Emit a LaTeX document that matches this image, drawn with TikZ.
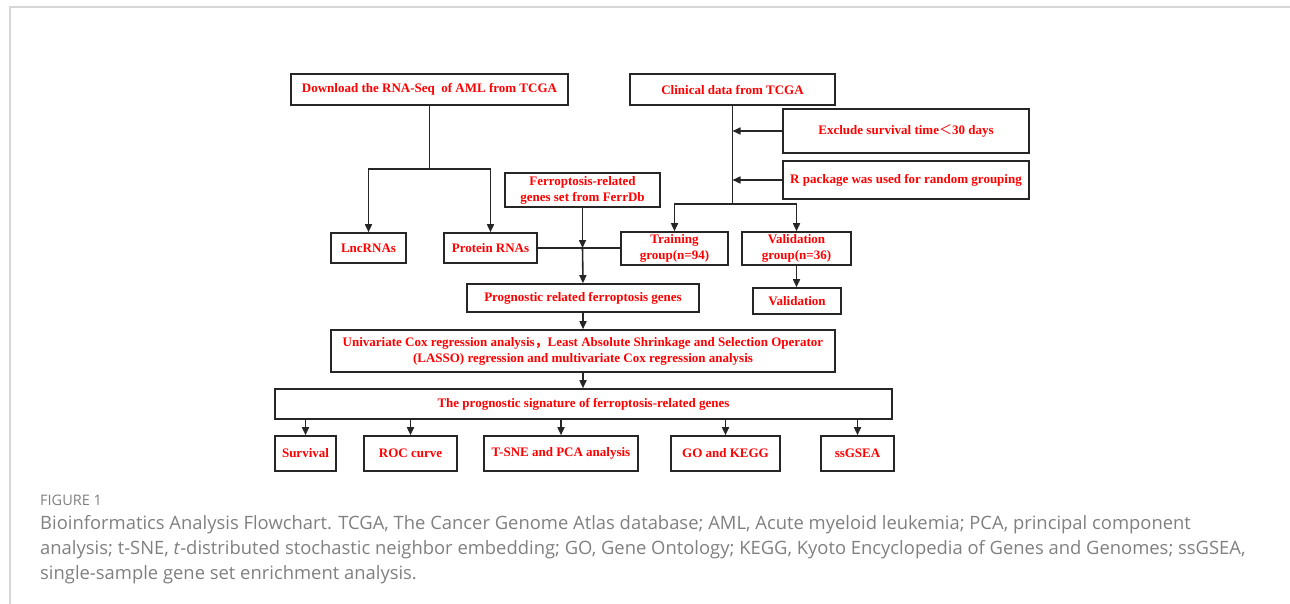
\documentclass[tikz,border=0pt]{standalone}
\usepackage{fontspec}
\setmainfont{Liberation Serif}
\newfontfamily\capfont{Open Sans}
\newfontfamily\cjkfont{Noto Sans CJK SC}
\usepackage{xcolor}
\usetikzlibrary{arrows.meta}
\definecolor{boxred}{RGB}{255,0,0}
\definecolor{boxline}{RGB}{38,38,38}
\definecolor{capgray}{RGB}{128,128,128}
\definecolor{framegray}{RGB}{214,214,214}

\begin{document}
\begin{tikzpicture}[x=1pt,y=-1pt,
  box/.style={draw=boxline,line width=1.6pt,inner sep=0pt,align=center,
    text=boxred,font=\fontsize{13}{16}\selectfont\bfseries},
  link/.style={draw=boxline,line width=1.6pt},
  arr/.style={link,-{Triangle[length=8pt,width=7pt]}},
  captext/.style={anchor=base west,inner sep=0pt,text=capgray,
    font=\capfont\fontsize{18.4}{25}\selectfont}]
\useasboundingbox (0,0) rectangle (1290,604);
\draw[framegray,line width=2pt] (9.5,604) -- (9.5,7.5) -- (1290,7.5);

\node[box,minimum width=277pt,minimum height=31pt] (dl) at (429.5,89.5) {Download the RNA-Seq~ of AML from TCGA};
\node[box,minimum width=205pt,minimum height=31pt] (clin) at (732.5,89.5) {Clinical data from TCGA};
\node[box,minimum width=246pt,minimum height=44pt] (excl) at (906,131) {Exclude survival time{\cjkfont\mdseries ＜}30 days};
\node[box,minimum width=246pt,minimum height=38pt] (rpkg) at (906,180) {R package was used for random grouping};
\node[box,minimum width=155pt,minimum height=34pt] (ferr) at (582.5,190) {Ferroptosis-related\\genes set from FerrDb};
\node[box,minimum width=75pt,minimum height=30pt] (lnc) at (368.5,248) {LncRNAs};
\node[box,minimum width=93pt,minimum height=30pt] (prot) at (490.5,248) {Protein RNAs};
\node[box,minimum width=107pt,minimum height=33pt] (train) at (674.5,248.5) {Training\\group(n=94)};
\node[box,minimum width=109pt,minimum height=33pt] (vgrp) at (796.5,248.5) {Validation\\group(n=36)};
\node[box,minimum width=88pt,minimum height=26pt] (valid) at (797,301) {Validation};
\node[box,minimum width=232pt,minimum height=28pt] (prog) at (583,298) {Prognostic related ferroptosis genes};
\node[box,minimum width=504pt,minimum height=42pt] (uni) at (583,351) {Univariate Cox regression analysis{\cjkfont ，}Least Absolute Shrinkage and Selection Operator\\(LASSO) regression and multivariate Cox regression analysis};
\node[box,minimum width=617pt,minimum height=30pt] (sig) at (583.5,404) {The prognostic signature of ferroptosis-related genes};
\node[box,minimum width=61pt,minimum height=35pt] (surv) at (305.5,453.5) {Survival};
\node[box,minimum width=93pt,minimum height=35pt] (roc) at (410.5,453.5) {ROC curve};
\node[box,minimum width=154pt,minimum height=35pt] (tsne) at (561,453.5) {T-SNE and PCA analysis};
\node[box,minimum width=109pt,minimum height=35pt] (gok) at (725.5,453.5) {GO and KEGG};
\node[box,minimum width=73pt,minimum height=35pt] (ssg) at (857.5,453.5) {ssGSEA};

\coordinate (dlj) at (429.5,169);
\draw[link] (dl.south) -- (dlj);
\draw[arr] (dlj) -| (lnc.north);
\draw[arr] (dlj) -| (prot.north);
\coordinate (clj) at (732.5,204);
\draw[link] (clin.south) -- (clj);
\draw[arr] (excl.west) -- (excl.west -| clin.south);
\draw[arr] (rpkg.west) -- (rpkg.west -| clin.south);
\draw[arr] (clj) -| (train.north);
\draw[arr] (clj) -| (vgrp.north);
\coordinate (fj) at (ferr.south |- prot.east);
\draw[link] (prot.east) -- (prot.east -| train.west);
\draw[arr] (ferr.south) -- (fj);
\draw[arr] (fj) -- (prog.north);
\draw[arr] (vgrp.south) -- (vgrp.south |- valid.north);
\draw[arr] (prog.south) -- (uni.north);
\draw[arr] (uni.south) -- (uni.south |- sig.north);
\foreach \k in {surv,roc,tsne,gok,ssg}
  \draw[arr] (sig.south -| \k.north) -- (\k.north);

\node[captext,font=\capfont\fontsize{14.5}{18}\selectfont] (fig) at (40,505.5) {FIGURE 1};
\node[captext] (cap1) at (40,529) {Bioinformatics Analysis Flowchart. TCGA, The Cancer Genome Atlas database; AML, Acute myeloid leukemia; PCA, principal component};
\node[captext] (cap2) at (40,554) {analysis; t-SNE, \textit{t}-distributed stochastic neighbor embedding; GO, Gene Ontology; KEGG, Kyoto Encyclopedia of Genes and Genomes; ssGSEA,};
\node[captext] (cap3) at (40,579) {single-sample gene set enrichment analysis.};
\end{tikzpicture}
\end{document}
